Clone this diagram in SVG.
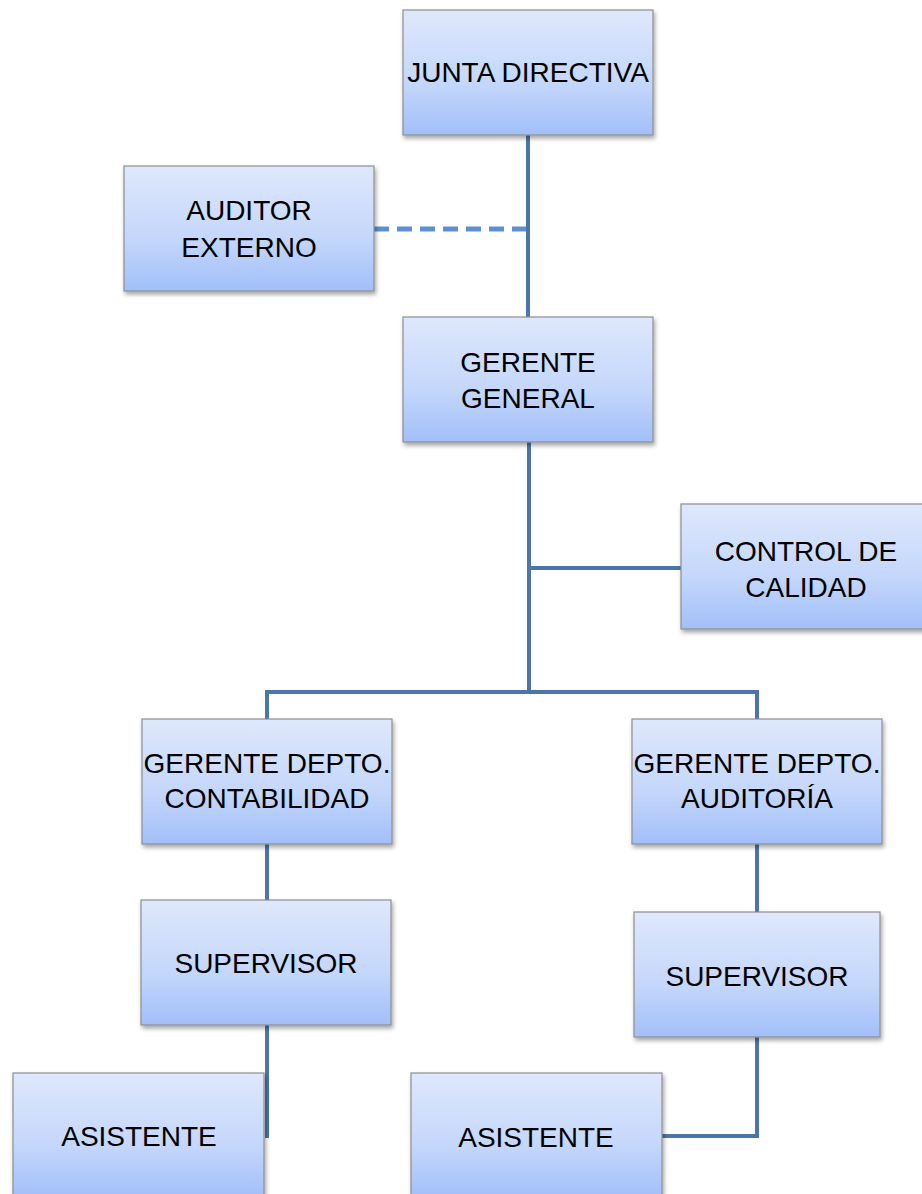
<svg xmlns="http://www.w3.org/2000/svg" width="922" height="1194" viewBox="0 0 922 1194">
<defs>
<linearGradient id="g" x1="0" y1="0" x2="0" y2="1">
<stop offset="0" stop-color="#dfe8fc"/>
<stop offset="0.6" stop-color="#c3d6fb"/>
<stop offset="1" stop-color="#a1bff9"/>
</linearGradient>
<filter id="sh" x="-10%" y="-10%" width="125%" height="130%">
<feDropShadow dx="1.5" dy="3" stdDeviation="2" flood-color="#000" flood-opacity="0.35"/>
</filter>
</defs>
<style>
.box{fill:url(#g);stroke:#8e8e8e;stroke-width:1.2;filter:url(#sh)}
.t{font-family:"Liberation Sans",Arial,sans-serif;font-size:28px;fill:#000;text-anchor:middle}
.c{fill:none;stroke:#4a76ab;stroke-width:4}
.d{fill:none;stroke:#5b8fd6;stroke-width:5;stroke-dasharray:15 8}
</style>
<rect width="922" height="1194" fill="#fff"/>
<g id="connectors">
<path class="c" d="M528 134 V317"/>
<path class="d" d="M374 229 H526"/>
<path class="c" d="M529 442 V692"/>
<path class="c" d="M529 568 H682"/>
<path class="c" d="M267 719 V692 H757 V719"/>
<path class="c" d="M267 844 V900"/>
<path class="c" d="M757 844 V912"/>
<path class="c" d="M267 1025 V1138"/>
<path class="c" d="M662 1136 H757 V1037"/>
</g>
<g id="junta"><rect class="box" x="403" y="10" width="250" height="125"/><text class="t" x="528" y="82">JUNTA DIRECTIVA</text></g>
<g id="auditor"><rect class="box" x="124" y="166" width="250" height="125"/><text class="t" x="249" y="220">AUDITOR</text><text class="t" x="249" y="257">EXTERNO</text></g>
<g id="gerente"><rect class="box" x="403" y="317" width="250" height="125"/><text class="t" x="528" y="372">GERENTE</text><text class="t" x="528" y="408">GENERAL</text></g>
<g id="control"><rect class="box" x="681" y="504" width="250" height="125"/><text class="t" x="806" y="561">CONTROL DE</text><text class="t" x="806" y="597">CALIDAD</text></g>
<g id="gdcont"><rect class="box" x="142" y="719" width="250" height="125"/><text class="t" x="267" y="773">GERENTE DEPTO.</text><text class="t" x="267" y="808">CONTABILIDAD</text></g>
<g id="gdaud"><rect class="box" x="632" y="719" width="250" height="125"/><text class="t" x="757" y="773">GERENTE DEPTO.</text><text class="t" x="757" y="808">AUDITORÍA</text></g>
<g id="sup1"><rect class="box" x="141" y="900" width="250" height="125"/><text class="t" x="266" y="973">SUPERVISOR</text></g>
<g id="sup2"><rect class="box" x="634" y="912" width="246" height="125"/><text class="t" x="757" y="986">SUPERVISOR</text></g>
<g id="asis1"><rect class="box" x="13" y="1073" width="251" height="125"/><text class="t" x="139" y="1146">ASISTENTE</text></g>
<g id="asis2"><rect class="box" x="411" y="1073" width="251" height="125"/><text class="t" x="536" y="1147">ASISTENTE</text></g>
</svg>
